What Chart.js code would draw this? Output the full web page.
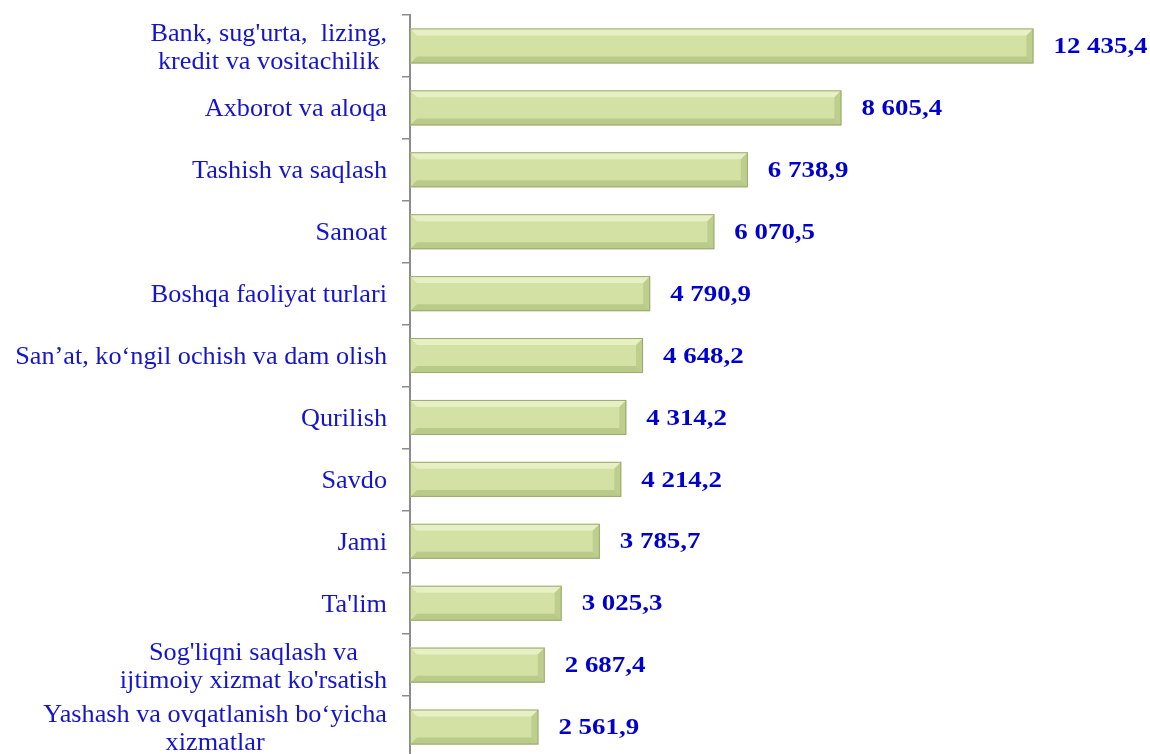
<!DOCTYPE html>
<html>
<head>
<meta charset="utf-8">
<script src="https://cdn.jsdelivr.net/npm/chart.js@4/dist/chart.umd.min.js"></script>
<style>
  html, body { margin: 0; padding: 0; background: #fff; overflow: hidden; }
  #wrap { width: 1150px; height: 754px; overflow: hidden; }
</style>
</head>
<body>
<div id="wrap"><canvas id="chart" width="1150" height="758"></canvas></div>
<script>
// ---- data ----
const categories = [
  ["Bank, sug'urta,  lizing,", "kredit va vositachilik"],
  "Axborot va aloqa",
  "Tashish va saqlash",
  "Sanoat",
  "Boshqa faoliyat turlari",
  "San\u2019at, ko\u2018ngil ochish va dam olish",
  "Qurilish",
  "Savdo",
  "Jami",
  "Ta'lim",
  ["Sog'liqni saqlash va", "ijtimoiy xizmat ko'rsatish"],
  ["Yashash va ovqatlanish bo\u2018yicha", "xizmatlar"]
];
const values = [12435.4, 8605.4, 6738.9, 6070.5, 4790.9, 4648.2, 4314.2, 4214.2, 3785.7, 3025.3, 2687.4, 2561.9];
const valueLabels = ["12 435,4", "8 605,4", "6 738,9", "6 070,5", "4 790,9", "4 648,2", "4 314,2", "4 214,2", "3 785,7", "3 025,3", "2 687,4", "2 561,9"];

const SERIF = '"Liberation Serif", "Times New Roman", serif';

// draw text a bit wider, like the stretched original
function wideText(ctx, txt, x, y, sx) {
  ctx.save();
  ctx.translate(x, y);
  ctx.scale(sx, 1);
  ctx.fillText(txt, 0, 0);
  ctx.restore();
}

// y labels: block right aligned, lines centered inside the block
const catLabels = {
  id: 'catLabels',
  afterDraw(chart) {
    const ctx = chart.ctx;
    const y = chart.scales.y;
    const sx = 1.05, right = 387, lh = 28;
    ctx.save();
    ctx.font = '25px ' + SERIF;
    ctx.fillStyle = '#1414cc';
    ctx.textAlign = 'center';
    ctx.textBaseline = 'middle';
    categories.forEach((c, i) => {
      const lines = Array.isArray(c) ? c : [c];
      const w = Math.max(...lines.map(l => ctx.measureText(l).width)) * sx;
      const cy = y.getPixelForValue(i) + 2;
      const y0 = cy - (lines.length - 1) * lh / 2;
      lines.forEach((l, k) => wideText(ctx, l, right - w / 2, y0 + k * lh, sx));
    });
    ctx.restore();
  }
};

// value labels to the right of bars
const valLabels = {
  id: 'valLabels',
  afterDatasetsDraw(chart) {
    const ctx = chart.ctx;
    const meta = chart.getDatasetMeta(0);
    ctx.save();
    ctx.font = 'bold 24px ' + SERIF;
    ctx.fillStyle = '#0000cc';
    ctx.textAlign = 'left';
    ctx.textBaseline = 'middle';
    meta.data.forEach((bar, i) => {
      wideText(ctx, valueLabels[i], bar.x + 20, bar.y + 1, 1.12);
    });
    ctx.restore();
  }
};

// little bevel on the bars
const bevel = {
  id: 'bevel',
  afterDatasetsDraw(chart) {
    const ctx = chart.ctx;
    const meta = chart.getDatasetMeta(0);
    ctx.save();
    meta.data.forEach(bar => {
      const l = bar.base, r = bar.x, t = bar.y - bar.height / 2, b = bar.y + bar.height / 2, d = 7;
      ctx.fillStyle = 'rgba(255,255,235,0.45)';
      ctx.beginPath();
      ctx.moveTo(l, t); ctx.lineTo(r, t); ctx.lineTo(r - d, t + d); ctx.lineTo(l + d, t + d); ctx.closePath();
      ctx.fill();
      ctx.fillStyle = 'rgba(120,140,70,0.28)';
      ctx.beginPath();
      ctx.moveTo(l, b); ctx.lineTo(r, b); ctx.lineTo(r - d, b - d); ctx.lineTo(l + d, b - d); ctx.closePath();
      ctx.fill();
      ctx.fillStyle = 'rgba(140,160,90,0.3)';
      ctx.beginPath();
      ctx.moveTo(r, t); ctx.lineTo(r, b); ctx.lineTo(r - d, b - d); ctx.lineTo(r - d, t + d); ctx.closePath();
      ctx.fill();
      ctx.strokeStyle = '#9aaa72';
      ctx.lineWidth = 1;
      ctx.strokeRect(l + 0.5, t + 0.5, r - l - 1, b - t - 1);
    });
    ctx.restore();
  }
};

new Chart(document.getElementById('chart'), {
  type: 'bar',
  data: {
    labels: categories,
    datasets: [{
      data: values,
      backgroundColor: (c) => {
        const el = c.element;
        if (!c.chart.chartArea || !el || el.y === undefined) return '#d3e2a4';
        const g = c.chart.ctx.createLinearGradient(0, el.y - 18, 0, el.y + 18);
        g.addColorStop(0, '#e2edbd');
        g.addColorStop(0.5, '#d5e4a8');
        g.addColorStop(1, '#c7d699');
        return g;
      },
      borderWidth: 0,
      categoryPercentage: 0.566,
      barPercentage: 1
    }]
  },
  options: {
    indexAxis: 'y',
    responsive: false,
    animation: false,
    layout: { padding: { top: 15, right: 10, bottom: 0, left: 0 } },
    plugins: { legend: { display: false }, tooltip: { enabled: false } },
    scales: {
      x: { display: false, min: 0, max: 14560 },
      y: {
        offset: true,
        ticks: { display: false },
        grid: { drawOnChartArea: false, offset: true, tickLength: 8, color: '#8c8c8c', tickColor: '#8c8c8c', lineWidth: 1.5 },
        border: { display: true, color: '#8c8c8c', width: 2 },
        afterFit(s) { s.width = 410; }
      }
    }
  },
  plugins: [bevel, valLabels, catLabels]
});
</script>
</body>
</html>
